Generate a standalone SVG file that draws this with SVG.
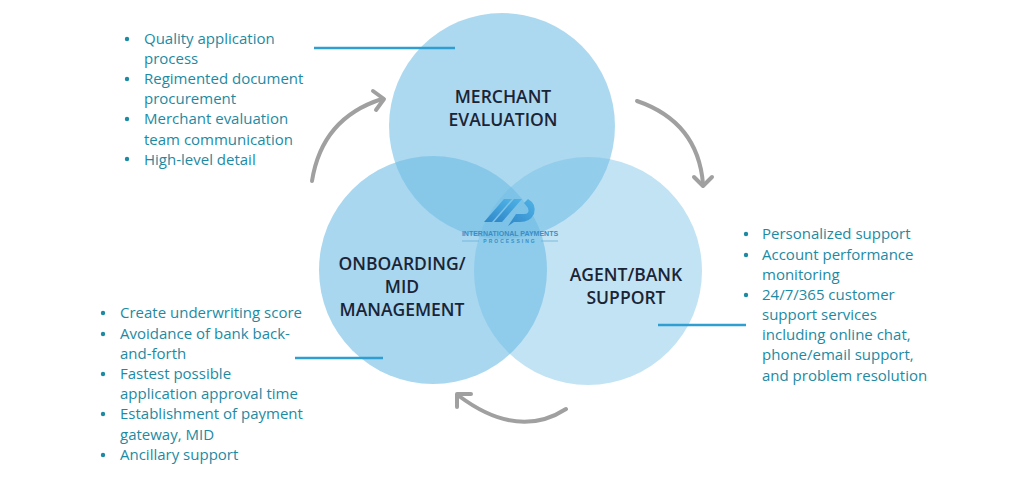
<svg xmlns="http://www.w3.org/2000/svg" width="1024" height="482" viewBox="0 0 1024 482">
<defs>
<style>
.c{fill:#6ebde4;}
.t{font-family:"Open Sans","Liberation Sans",sans-serif;font-size:17.5px;fill:#1b2435;text-anchor:middle;font-weight:600;}
.b{font-family:"Open Sans","Liberation Sans",sans-serif;font-size:15px;fill:#1d8aa3;}
.dot{fill:#1d8aa3;}
.ln{stroke:#2e9fd0;stroke-width:2.5;fill:none;}
.ar{stroke:#a0a0a0;stroke-width:4;fill:none;stroke-linecap:round;stroke-linejoin:round;}
.lt{font-family:"Liberation Sans",sans-serif;fill:#3d8cc4;text-anchor:middle;font-weight:bold;}
</style>
<linearGradient id="lg" x1="0" y1="1" x2="1" y2="0">
<stop offset="0" stop-color="#2f86c8"/>
<stop offset="1" stop-color="#4fb3e6"/>
</linearGradient>
</defs>
<rect width="1024" height="482" fill="#ffffff"/>

<g id="circle-onboarding"><circle class="c" cx="433" cy="270" r="114" opacity="0.6"/></g>
<g id="circle-merchant"><circle class="c" cx="502" cy="126" r="113" opacity="0.57"/></g>
<g id="circle-agent"><circle class="c" cx="588" cy="271" r="114" opacity="0.42"/></g>

<g id="logo">
<polygon points="484,222 492,222 512,199 504,199" fill="url(#lg)"/>
<polygon points="494,222 502,222 522,199 514,199" fill="url(#lg)"/>
<path d="M508,226 L516,214 L524,214 Q530,214 528,208 L524,203 L528,199 Q537,204 534,214 Q530,222 520,222 L514,222 Z" fill="url(#lg)"/>
<text class="lt" x="510" y="236" font-size="7">INTERNATIONAL PAYMENTS</text>
<line x1="462" y1="241" x2="479" y2="241" stroke="#6aaed8" stroke-width="0.8"/>
<line x1="541" y1="241" x2="558" y2="241" stroke="#6aaed8" stroke-width="0.8"/>
<text class="lt" x="510" y="243" font-size="5" letter-spacing="2">PROCESSING</text>
</g>

<g id="label-merchant">
<text class="t" x="503" y="103">MERCHANT</text>
<text class="t" x="503" y="126">EVALUATION</text>
</g>
<g id="label-onboarding">
<text class="t" x="402" y="270">ONBOARDING/</text>
<text class="t" x="402" y="293">MID</text>
<text class="t" x="402" y="316">MANAGEMENT</text>
</g>
<g id="label-agent">
<text class="t" x="626" y="281">AGENT/BANK</text>
<text class="t" x="626" y="304">SUPPORT</text>
</g>

<g id="connectors">
<line class="ln" x1="314" y1="48" x2="455" y2="48"/>
<line class="ln" x1="295" y1="358" x2="383" y2="358"/>
<line class="ln" x1="658" y1="325" x2="746" y2="325"/>
<path class="ar" d="M312,181 Q322,118 382,99"/>
<polyline class="ar" points="373,91 384,99 376,110"/>
<path class="ar" d="M637,101 Q698,122 703,184"/>
<polyline class="ar" points="694,177 703,186 712,177"/>
<path class="ar" d="M566,409 Q518,440 459,396"/>
<polyline class="ar" points="471,394 457,394 457,407"/>
</g>

<g id="list-merchant">
<circle class="dot" cx="127" cy="39" r="2.2"/>
<circle class="dot" cx="127" cy="79" r="2.2"/>
<circle class="dot" cx="127" cy="119" r="2.2"/>
<circle class="dot" cx="127" cy="159" r="2.2"/>
<text class="b" x="144" y="44">Quality application</text>
<text class="b" x="144" y="64">process</text>
<text class="b" x="144" y="84">Regimented document</text>
<text class="b" x="144" y="104">procurement</text>
<text class="b" x="144" y="124">Merchant evaluation</text>
<text class="b" x="144" y="145">team communication</text>
<text class="b" x="144" y="165">High-level detail</text>
</g>

<g id="list-onboarding">
<circle class="dot" cx="103" cy="313" r="2.2"/>
<circle class="dot" cx="103" cy="334" r="2.2"/>
<circle class="dot" cx="103" cy="374" r="2.2"/>
<circle class="dot" cx="103" cy="414" r="2.2"/>
<circle class="dot" cx="103" cy="455" r="2.2"/>
<text class="b" x="120" y="318">Create underwriting score</text>
<text class="b" x="120" y="339">Avoidance of bank back-</text>
<text class="b" x="120" y="359">and-forth</text>
<text class="b" x="120" y="379">Fastest possible</text>
<text class="b" x="120" y="399">application approval time</text>
<text class="b" x="120" y="419">Establishment of payment</text>
<text class="b" x="120" y="440">gateway, MID</text>
<text class="b" x="120" y="460">Ancillary support</text>
</g>

<g id="list-agent">
<circle class="dot" cx="746" cy="234" r="2.2"/>
<circle class="dot" cx="746" cy="255" r="2.2"/>
<circle class="dot" cx="746" cy="295" r="2.2"/>
<text class="b" x="762" y="239">Personalized support</text>
<text class="b" x="762" y="260">Account performance</text>
<text class="b" x="762" y="280">monitoring</text>
<text class="b" x="762" y="300">24/7/365 customer</text>
<text class="b" x="762" y="320">support services</text>
<text class="b" x="762" y="340">including online chat,</text>
<text class="b" x="762" y="360">phone/email support,</text>
<text class="b" x="762" y="381">and problem resolution</text>
</g>
</svg>
